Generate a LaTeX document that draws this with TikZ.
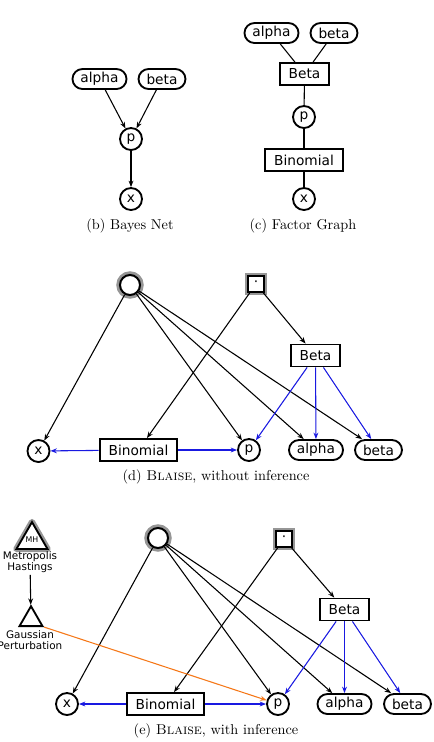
\documentclass[tikz,border=0pt]{standalone}
\usepackage{fontspec}
\newfontfamily\nodefont{DejaVu Sans}
\usetikzlibrary{arrows.meta,shapes.geometric}
\definecolor{eblue}{RGB}{25,25,225}
\definecolor{eorange}{RGB}{245,120,25}
\definecolor{halo}{RGB}{150,150,150}
\tikzset{
  every node/.style={font=\nodefont\fontsize{9.6}{11}\selectfont},
  rv/.style={draw, line width=1.3pt, rounded corners=7pt, minimum height=14pt, inner xsep=5.6pt, inner ysep=0pt, fill=white},
  fac/.style={draw, rectangle, line width=1.3pt, minimum height=15.4pt, inner xsep=6.3pt, inner ysep=0pt, fill=white},
  obs/.style={draw, circle, line width=1.3pt, minimum size=15.4pt, inner sep=0pt, fill=white},
  hcirc/.style={draw, circle, line width=1.4pt, minimum size=14pt, inner sep=0pt, fill=white, preaction={draw=halo, line width=5.2pt}},
  hsq/.style={draw, rectangle, line width=1.4pt, minimum size=11.2pt, inner sep=0pt, fill=white, preaction={draw=halo, line width=4.8pt}},
  htri/.style={draw, regular polygon, regular polygon sides=3, line width=1.3pt, minimum size=18.6pt, inner sep=0pt, fill=white, preaction={draw=halo, line width=4.4pt, line join=round}, font=\nodefont\fontsize{5.5}{6}\selectfont},
  ktri/.style={draw, regular polygon, regular polygon sides=3, line width=1.3pt, minimum size=18.6pt, inner sep=0pt, fill=white},
  smalltxt/.style={align=center, inner sep=1pt, font=\nodefont\fontsize{7.3}{7.7}\selectfont},
  captxt/.style={font=\rmfamily\fontsize{10}{12}\selectfont, inner sep=0pt},
  arr/.style={line width=0.75pt, -{Stealth[length=4.5pt,width=3.4pt]}},
  barr/.style={arr, draw=eblue},
  oarr/.style={arr, draw=eorange},
  plainline/.style={line width=0.75pt}
}
\begin{document}
\begin{tikzpicture}[x=0.7pt,y=-0.7pt]
\useasboundingbox (0,0) rectangle (433,742);

% ---------- (b) Bayes Net ----------
\node[rv] (aB) at (99.5,79) {alpha};
\node[rv] (bB) at (162,79) {beta};
\node[obs] (pB) at (131,139) {p};
\node[obs] (xB) at (131,199) {x};
\node[captxt] (capB) at (130,226) {(b) Bayes Net};
\draw[arr] (aB) -- (pB);
\draw[arr] (bB) -- (pB);
\draw[arr] (pB) -- (xB);

% ---------- (c) Factor Graph ----------
\node[rv] (aC) at (271.5,33) {alpha};
\node[rv] (bC) at (334,33) {beta};
\node[fac] (BetaC) at (304.5,74) {Beta};
\node[obs] (pC) at (304,117) {p};
\node[fac] (BinC) at (304,160) {Binomial};
\node[obs] (xC) at (304,199) {x};
\node[captxt] (capC) at (303,226) {(c) Factor Graph};
\draw[plainline] (aC) -- (BetaC);
\draw[plainline] (bC) -- (BetaC);
\draw[plainline] (BetaC) -- (pC);
\draw[plainline] (pC) -- (BinC);
\draw[plainline] (BinC) -- (xC);

% ---------- (d) Blaise, without inference ----------
\node[hcirc] (cD) at (130,285) {};
\node[hsq] (sD) at (256,284) {\char"00B7};
\node[fac] (BetaD) at (315.5,355.5) {Beta};
\node[obs] (xD) at (38.5,451) {x};
\node[fac] (BinD) at (138.5,450) {Binomial};
\node[obs] (pD) at (249,450) {p};
\node[rv] (aD) at (316,450) {alpha};
\node[rv] (bD) at (378.5,450) {beta};
\node[captxt] (capD) at (216,477) {(d) \textsc{Blaise}, without inference};
\draw[arr] (cD) -- (xD);
\draw[arr] (cD) -- (pD);
\draw[arr] (cD) -- (aD);
\draw[arr] (cD) -- (bD);
\draw[arr] (sD) -- (BinD);
\draw[arr] (sD) -- (BetaD);
\draw[barr] (BetaD) -- (pD);
\draw[barr] (BetaD) -- (aD);
\draw[barr] (BetaD) -- (bD);
\draw[barr] (BinD) -- (xD);
\draw[barr] (BinD) -- (pD);

% ---------- (e) Blaise, with inference ----------
\node[htri] (mh) at (32,540) {\raisebox{-3pt}{MH}};
\node[smalltxt] (mhl) at (30,562.5) {Metropolis\\Hastings};
\node[ktri] (gp) at (31,619.5) {};
\node[smalltxt] (gpl) at (30,640.5) {Gaussian\\Perturbation};
\node[hcirc] (cE) at (158,538) {};
\node[hsq] (sE) at (284,539) {\char"00B7};
\node[fac] (BetaE) at (344.5,609.5) {Beta};
\node[obs] (xE) at (67,704) {x};
\node[fac] (BinE) at (165.5,704) {Binomial};
\node[obs] (pE) at (278,704) {p};
\node[rv] (aE) at (344.5,704) {alpha};
\node[rv] (bE) at (407.5,704) {beta};
\node[captxt] (capE) at (216,731) {(e) \textsc{Blaise}, with inference};
\draw[arr] (mhl) -- (gp);
\draw[arr] (cE) -- (xE);
\draw[arr] (cE) -- (pE);
\draw[arr] (cE) -- (aE);
\draw[arr] (cE) -- (bE);
\draw[arr] (sE) -- (BinE);
\draw[arr] (sE) -- (BetaE);
\draw[barr] (BetaE) -- (pE);
\draw[barr] (BetaE) -- (aE);
\draw[barr] (BetaE) -- (bE);
\draw[barr] (BinE) -- (xE);
\draw[barr] (BinE) -- (pE);
\draw[oarr] (gp.corner 3) -- (pE);
\end{tikzpicture}
\end{document}
